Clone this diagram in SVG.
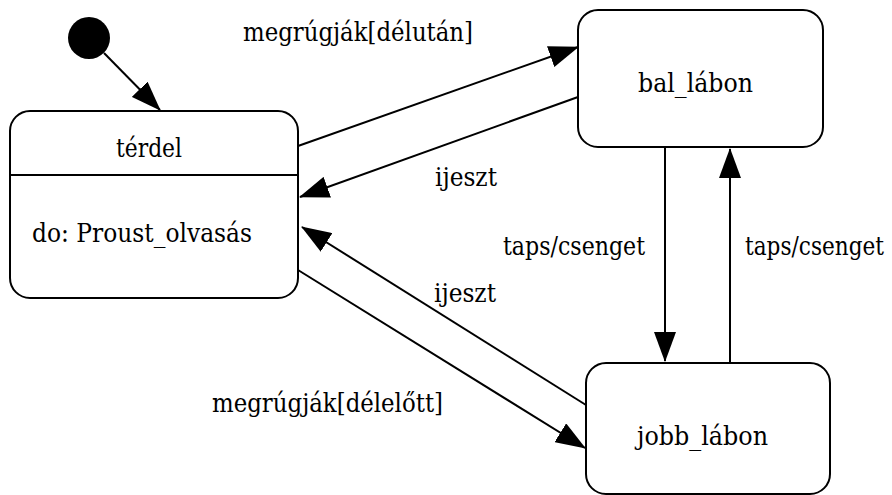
<svg xmlns="http://www.w3.org/2000/svg" width="892" height="495" viewBox="0 0 892 495">
<style>
.box{fill:#fff;stroke:#000;stroke-width:2}
.t{font-family:"DejaVu Serif Condensed","DejaVu Serif",serif;font-stretch:condensed;font-size:26px;fill:#000}
.edge{fill:none;stroke:#000;stroke-width:2;marker-end:url(#ah)}
</style>
<defs>
<marker id="ah" viewBox="0 0 30 22" refX="29" refY="11" markerWidth="30" markerHeight="22" markerUnits="userSpaceOnUse" orient="auto">
<path d="M0,0 L30,11 L0,22 z" fill="#000"/>
</marker>
</defs>
<rect width="892" height="495" fill="#fff"/>
<g id="connectors">
<line class="edge" x1="104" y1="53" x2="160" y2="110"/>
<line class="edge" x1="298" y1="146" x2="578" y2="47"/>
<line class="edge" x1="578" y1="97" x2="300" y2="197"/>
<line class="edge" x1="665" y1="147" x2="665" y2="361"/>
<line class="edge" x1="730" y1="363" x2="730" y2="149"/>
<line class="edge" x1="586" y1="405" x2="302" y2="227"/>
<line class="edge" x1="298" y1="270" x2="585" y2="448"/>
<text class="t" x="243" y="41" textLength="230" lengthAdjust="spacingAndGlyphs">megrúgják[délután]</text>
<text class="t" x="435" y="186" textLength="62" lengthAdjust="spacingAndGlyphs">ijeszt</text>
<text class="t" x="503" y="255" textLength="142" lengthAdjust="spacingAndGlyphs">taps/csenget</text>
<text class="t" x="745" y="255" textLength="139" lengthAdjust="spacingAndGlyphs">taps/csenget</text>
<text class="t" x="434" y="302" textLength="62" lengthAdjust="spacingAndGlyphs">ijeszt</text>
<text class="t" x="212" y="412" textLength="231" lengthAdjust="spacingAndGlyphs">megrúgják[délelőtt]</text>
</g>
<g id="initial">
<circle cx="89" cy="38" r="21" fill="#000"/>
</g>
<g id="terdel">
<rect class="box" x="10" y="111" width="288" height="187" rx="20" ry="20"/>
<line x1="10" y1="175" x2="298" y2="175" stroke="#000" stroke-width="2"/>
<text class="t" x="116" y="157" textLength="66" lengthAdjust="spacingAndGlyphs">térdel</text>
<text class="t" x="32" y="242" textLength="220" lengthAdjust="spacingAndGlyphs">do: Proust_olvasás</text>
</g>
<g id="bal_labon">
<rect class="box" x="578" y="10" width="245" height="137" rx="20" ry="20"/>
<text class="t" x="638" y="92" textLength="115" lengthAdjust="spacingAndGlyphs">bal_lábon</text>
</g>
<g id="jobb_labon">
<rect class="box" x="586" y="363" width="244" height="131" rx="20" ry="20"/>
<text class="t" x="637" y="445" textLength="131" lengthAdjust="spacingAndGlyphs">jobb_lábon</text>
</g>
</svg>
